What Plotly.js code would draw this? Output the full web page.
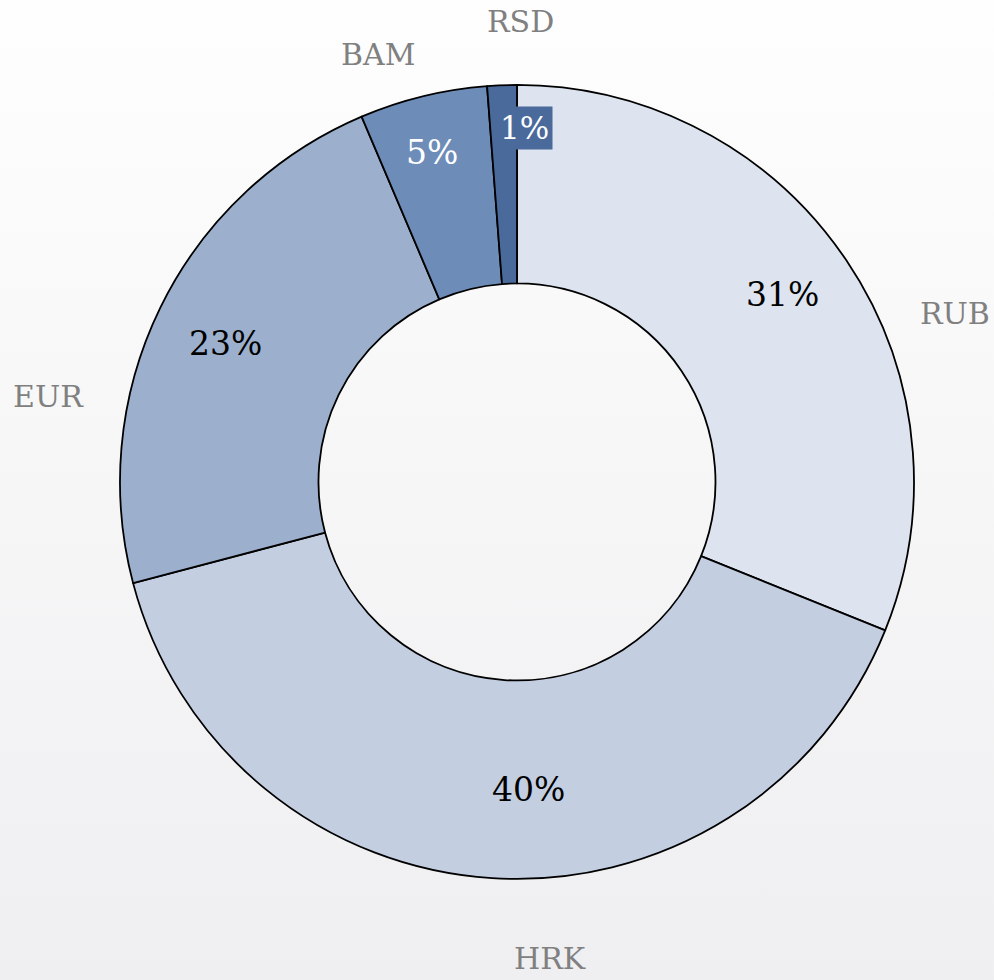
<!DOCTYPE html>
<html>
<head>
<meta charset="utf-8">
<script src="https://cdn.plot.ly/plotly-3.0.1.min.js"></script>
<style>
  html, body { margin: 0; padding: 0; }
  body { width: 994px; height: 980px; background: linear-gradient(to bottom, #fefefe 0%, #f6f6f7 50%, #efeff1 100%); }
  #chart { width: 994px; height: 980px; }
</style>
</head>
<body>
<div id="chart"></div>
<script>
// Data
const currencies = ["RUB", "HRK", "EUR", "BAM", "RSD"];
const shares = [31.1, 39.8, 22.7, 5.2, 1.2];
const sliceColors = ["#dde4ef", "#c3cee1", "#9cb0ce", "#6d8cb8", "#4a6a9c"];

const total = shares.reduce((a, b) => a + b, 0);
const pctText = shares.map(v => Math.round(v / total * 100) + "%");

// Label placement (layout positions, paper coords)
const nameXY = { RUB: [0.9608, 0.6806], HRK: [0.5533, 0.0224], EUR: [0.0483, 0.5949], BAM: [0.3803, 0.9439], RSD: [0.5241, 0.9776] };
const pctXY  = { RUB: [0.7877, 0.6990], HRK: [0.5312, 0.1939], EUR: [0.2264, 0.6500], BAM: [0.4346, 0.8439], RSD: [0.5272, 0.8694] };
const pctColor = { RUB: "#000000", HRK: "#000000", EUR: "#000000", BAM: "#ffffff", RSD: "#ffffff" };

const FONT = "DejaVu Serif, Liberation Serif, serif";

const annotations = [];
currencies.forEach((c, i) => {
  annotations.push({
    text: c, x: nameXY[c][0], y: nameXY[c][1], xref: "paper", yref: "paper",
    showarrow: false, xanchor: "center", yanchor: "middle",
    font: { family: FONT, size: 30, color: "#808080" }
  });
  const a = {
    text: pctText[i], x: pctXY[c][0], y: pctXY[c][1], xref: "paper", yref: "paper",
    showarrow: false, xanchor: "center", yanchor: "middle",
    font: { family: FONT, size: 33, color: pctColor[c] }
  };
  if (c === "RSD") { a.bgcolor = sliceColors[i]; a.borderpad = 3; a.font.size = 31; }
  annotations.push(a);
});

const trace = {
  type: "pie",
  labels: currencies,
  values: shares,
  hole: 0.5,
  sort: false,
  direction: "clockwise",
  rotation: 0,
  textinfo: "none",
  hoverinfo: "label+percent",
  marker: { colors: sliceColors, line: { color: "#000000", width: 1.8 } },
  domain: { x: [0.1207, 0.9195], y: [0.1031, 0.9133] },
  showlegend: false
};

const layout = {
  width: 994, height: 980,
  margin: { l: 0, r: 0, t: 0, b: 0 },
  paper_bgcolor: "rgba(0,0,0,0)",
  plot_bgcolor: "rgba(0,0,0,0)",
  showlegend: false,
  annotations: annotations
};

Plotly.newPlot("chart", [trace], layout, { displayModeBar: false, staticPlot: true });
</script>
</body>
</html>
